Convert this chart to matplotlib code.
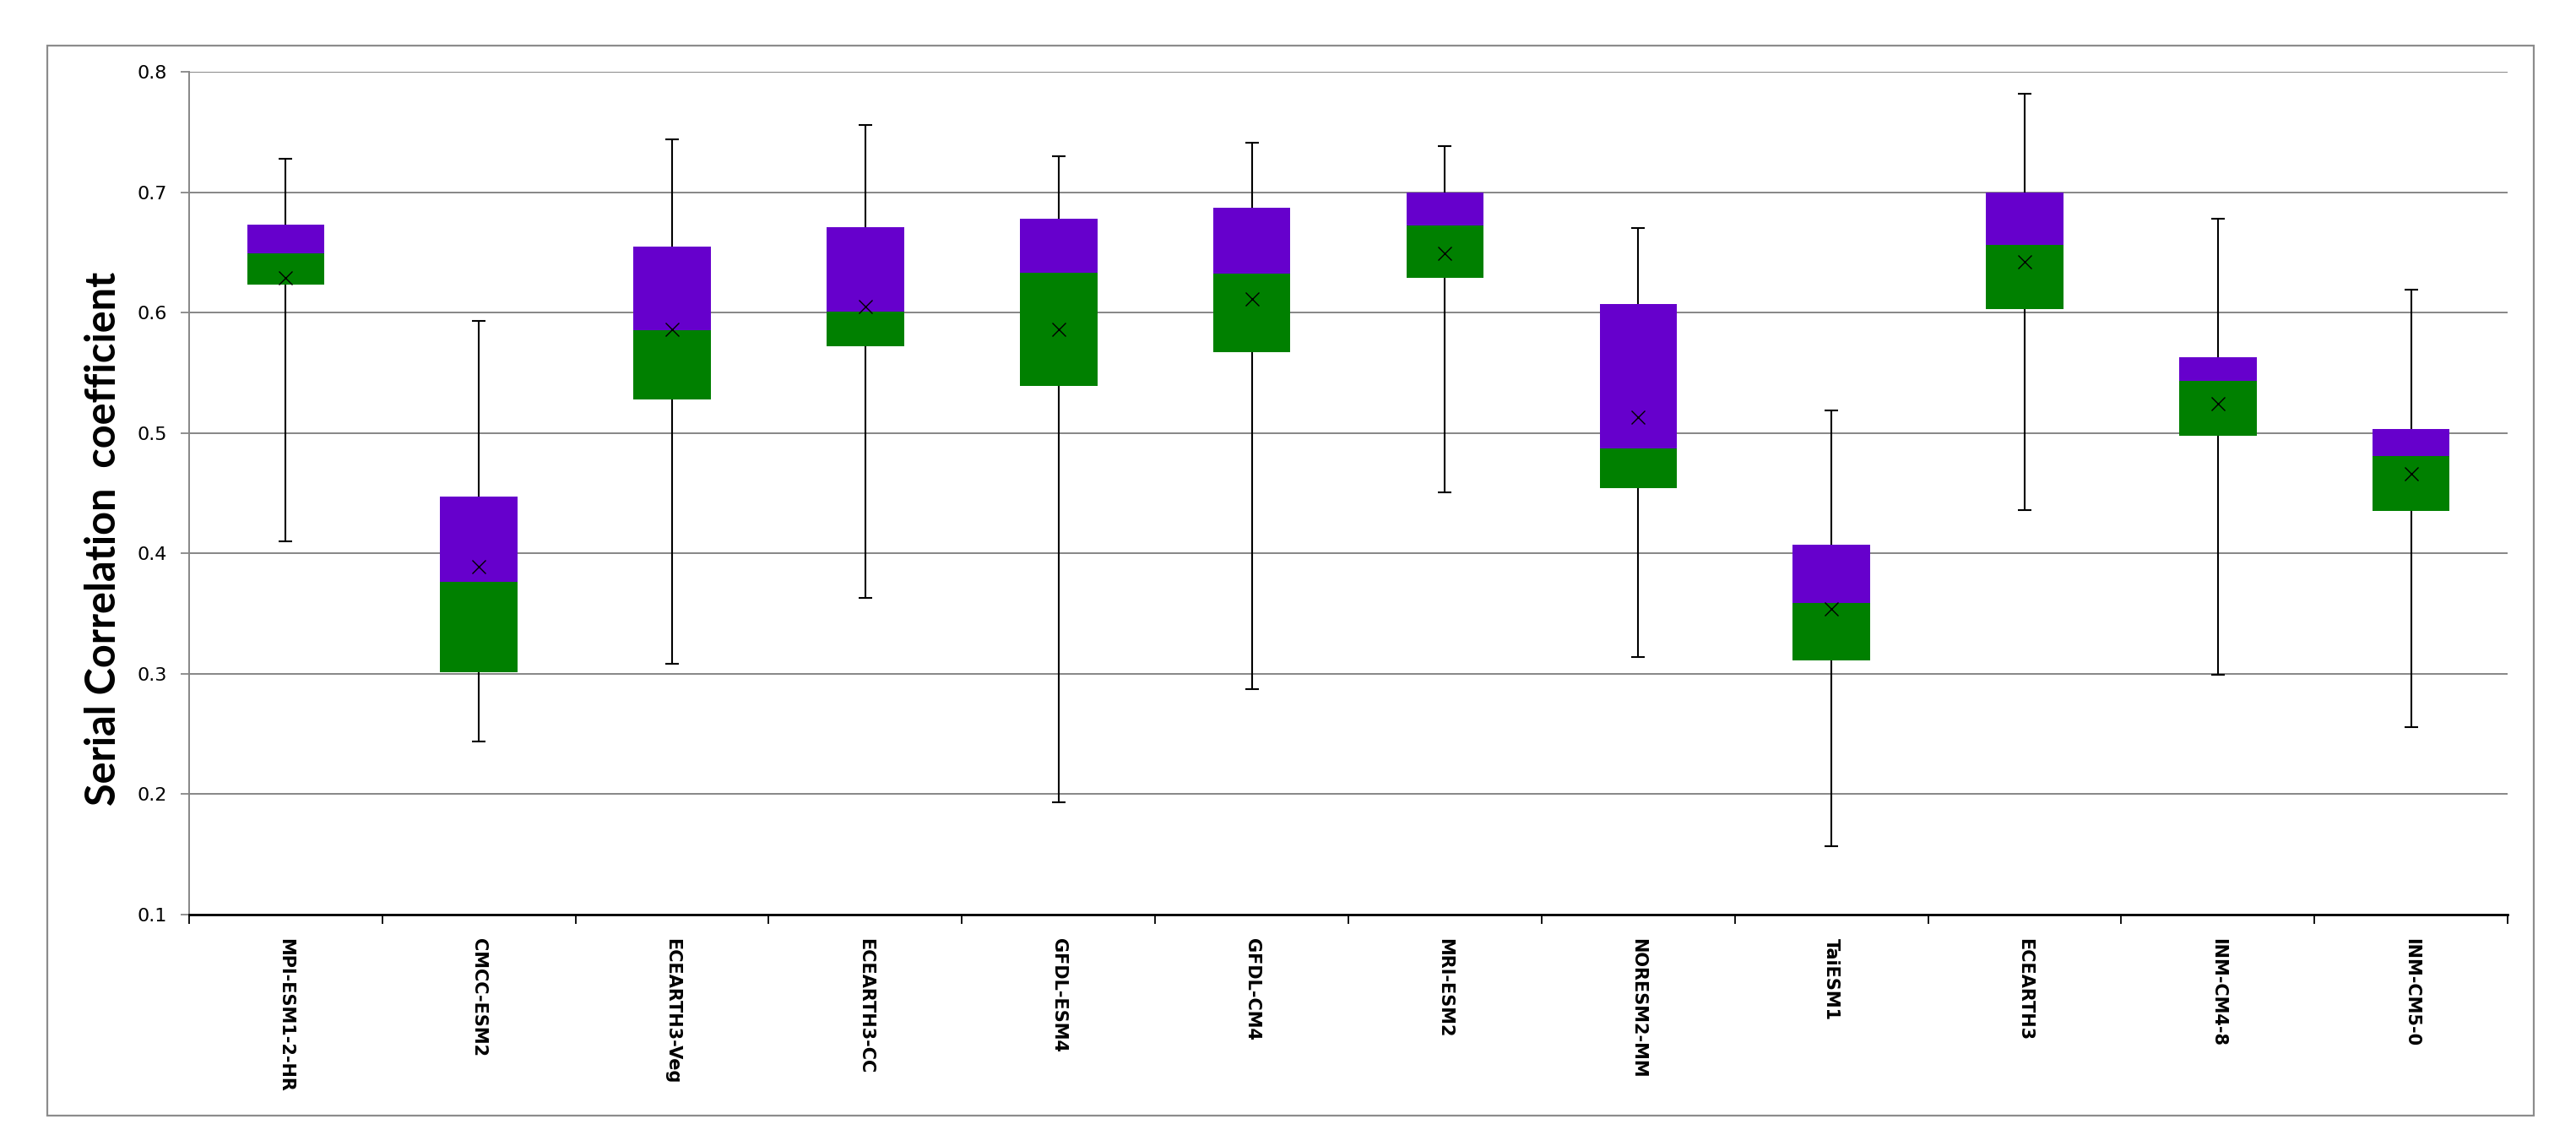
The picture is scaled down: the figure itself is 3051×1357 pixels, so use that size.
import matplotlib
matplotlib.use("Agg")
import matplotlib.pyplot as plt
from matplotlib.patches import Rectangle
import numpy as np

# ----------------------------------------------------------------------------
# data
# ----------------------------------------------------------------------------
models = [
    "MPI-ESM1-2-HR", "CMCC-ESM2", "ECEARTH3-Veg", "ECEARTH3-CC",
    "GFDL-ESM4", "GFDL-CM4", "MRI-ESM2", "NORESM2-MM",
    "TaiESM1", "ECEARTH3", "INM-CM4-8", "INM-CM5-0",
]
v_min = [0.410, 0.244, 0.308, 0.363, 0.193, 0.287, 0.451, 0.314, 0.157, 0.436, 0.299, 0.256]
q1 = [0.623, 0.301, 0.528, 0.572, 0.539, 0.567, 0.629, 0.454, 0.311, 0.603, 0.498, 0.435]
median = [0.649, 0.376, 0.585, 0.601, 0.633, 0.632, 0.672, 0.487, 0.359, 0.656, 0.543, 0.481]
q3 = [0.673, 0.447, 0.655, 0.671, 0.678, 0.687, 0.700, 0.607, 0.407, 0.700, 0.563, 0.503]
v_max = [0.728, 0.593, 0.744, 0.756, 0.730, 0.741, 0.738, 0.670, 0.519, 0.782, 0.678, 0.619]
mean = [0.629, 0.389, 0.586, 0.605, 0.586, 0.611, 0.649, 0.513, 0.354, 0.642, 0.524, 0.466]

yticks = [0.1, 0.2, 0.3, 0.4, 0.5, 0.6, 0.7, 0.8]

GREEN = "#008000"
PURPLE = "#6600cc"
GRID = "#868686"

# ----------------------------------------------------------------------------
# figure
# ----------------------------------------------------------------------------
fig = plt.figure(figsize=(30.51, 13.57), dpi=100)
fig.patch.set_facecolor("white")

# outer chart-area border (Excel style)
fig.patches.append(Rectangle((0.0184, 0.0265), 0.9652, 0.9335,
                             transform=fig.transFigure, fill=False,
                             edgecolor="#8c8c8c", linewidth=1.6))

ax = fig.add_axes([0.0734, 0.2019, 0.9001, 0.7355])

x = np.arange(1, len(models) + 1)
lo = np.array(v_min)
b1 = np.array(q1)
md = np.array(median)
b3 = np.array(q3)
hi = np.array(v_max)

# whiskers min -> max, boxes drawn on top
ax.errorbar(x, md, yerr=[md - lo, hi - md], fmt="none", ecolor="black",
            elinewidth=1.5, capsize=5.8, capthick=1.5, zorder=2)
ax.bar(x, md - b1, bottom=b1, width=0.40, color=GREEN, zorder=3)
ax.bar(x, b3 - md, bottom=md, width=0.40, color=PURPLE, zorder=3)
ax.plot(x, mean, linestyle="none", marker="x", markersize=12,
        markeredgewidth=1.0, color="black", zorder=4)

# axes styling
ax.set_xlim(0.5, len(models) + 0.5)
ax.set_ylim(0.1, 0.8)
ax.set_yticks(yticks)
ax.set_yticklabels([f"{t:.1f}" for t in yticks], fontsize=16)
ax.yaxis.grid(True, color=GRID, linewidth=1.4)
ax.set_axisbelow(True)

ax.set_xticks(x)
ax.set_xticklabels(models, rotation=-90, fontsize=15, fontweight="bold",
                   va="top", ha="center")
ax.set_xticks(np.arange(0.5, len(models) + 1, 1), minor=True)
ax.tick_params(axis="x", which="major", length=0, pad=20)
ax.tick_params(axis="x", which="minor", length=8, width=1.3, color="black")
ax.tick_params(axis="y", length=7, width=1.3, color=GRID, pad=12)

for side in ["top", "right"]:
    ax.spines[side].set_visible(False)
ax.spines["left"].set_color(GRID)
ax.spines["left"].set_linewidth(1.4)
ax.spines["bottom"].set_color("black")
ax.spines["bottom"].set_linewidth(2.0)

fig.text(0.040, 0.530, "Serial Correlation  coefficient", rotation=90,
         ha="center", va="center", fontsize=35, fontweight="bold",
         family="Lato")

fig.savefig("out.png", dpi=100, facecolor="white")
